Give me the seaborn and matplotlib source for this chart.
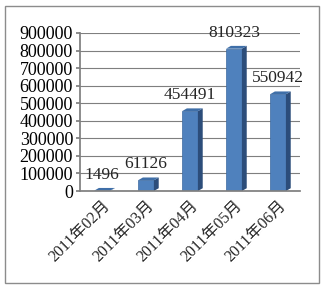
import matplotlib
matplotlib.use("Agg")
import matplotlib.pyplot as plt
import seaborn as sns
import pandas as pd
from matplotlib.patches import Polygon, Rectangle

categories = ["2011年02月", "2011年03月", "2011年04月", "2011年05月", "2011年06月"]
values = [1496, 61126, 454491, 810323, 550942]
yticks = [0, 100000, 200000, 300000, 400000, 500000, 600000, 700000, 800000, 900000]

sns.set_theme(style="white")
plt.rcParams['font.family'] = ['Liberation Serif', 'Noto Sans CJK SC', 'DejaVu Sans']

df = pd.DataFrame({"month": categories, "value": values})

fig = plt.figure(figsize=(3.25, 2.89), dpi=100)
ax = fig.add_axes([0.246, 0.339, 0.677, 0.547])

sns.barplot(data=df, x="month", y="value", color="#4f81bd", saturation=1, width=0.36,
            edgecolor="#3d6aa0", linewidth=0.5, ax=ax)

ax.set_ylim(0, 900000)
ax.set_yticks(yticks)
ax.set_yticklabels([str(v) for v in yticks], fontsize=13)
ax.set_xlabel("")
ax.set_ylabel("")
ax.yaxis.grid(True, color="#7f7f7f", linewidth=0.8)
ax.set_axisbelow(True)
for s in ["top", "right"]:
    ax.spines[s].set_visible(False)
ax.spines["left"].set_color("#7f7f7f")
ax.spines["bottom"].set_color("#7f7f7f")
ax.tick_params(axis="y", length=3, pad=2, colors="black", left=True, color="#7f7f7f")
ax.tick_params(axis="x", length=0, pad=5)
ax.set_xticklabels(categories, rotation=45, ha="right", rotation_mode="anchor", fontsize=11.5)

# pseudo-3D side and top faces derived from drawn bars
dx = 0.11
dy = 16000
for p in ax.patches:
    x0, y0 = p.get_x(), p.get_y()
    w, h = p.get_width(), p.get_height()
    side = Polygon([(x0 + w, y0), (x0 + w + dx, y0 + dy), (x0 + w + dx, y0 + h + dy), (x0 + w, y0 + h)],
                   closed=True, facecolor="#2c4d7a", edgecolor="none", zorder=p.get_zorder())
    top = Polygon([(x0, y0 + h), (x0 + dx, y0 + h + dy), (x0 + w + dx, y0 + h + dy), (x0 + w, y0 + h)],
                  closed=True, facecolor="#3f6fa8", edgecolor="none", zorder=p.get_zorder())
    ax.add_patch(side)
    ax.add_patch(top)

for i, v in enumerate(values):
    ax.text(i, v + 45000, str(v), ha="center", va="bottom", fontsize=12.5)

fig.patches.append(Rectangle((0.015, 0.02), 0.965, 0.96, transform=fig.transFigure,
                             fill=False, edgecolor="#8c8c8c", linewidth=1))

fig.savefig("out.png", dpi=100)
